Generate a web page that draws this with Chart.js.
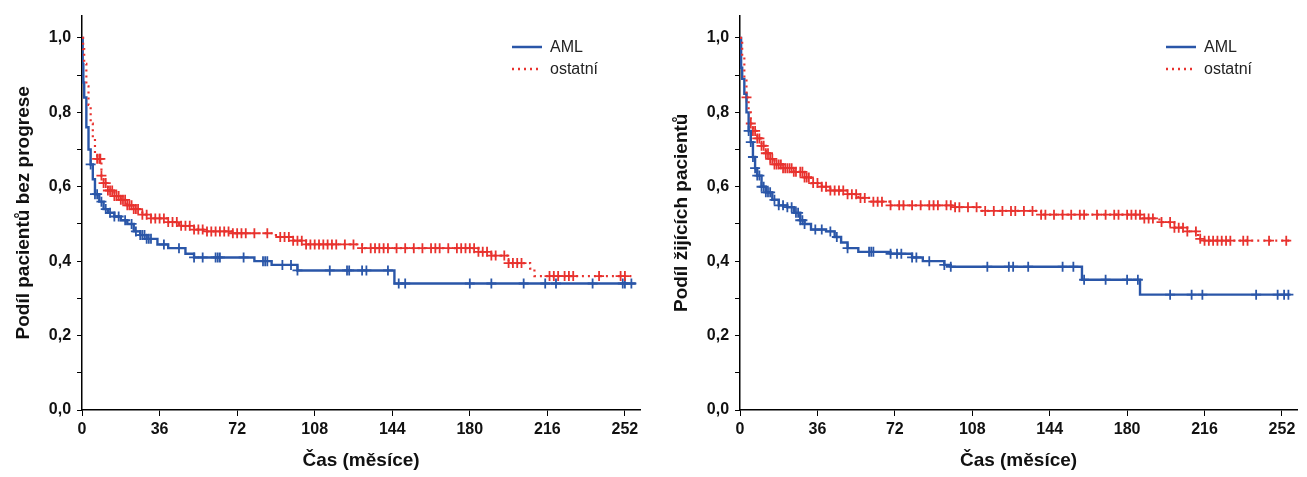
<!DOCTYPE html>
<html><head><meta charset="utf-8">
<script src="https://cdn.jsdelivr.net/npm/chart.js@4"></script>
<style>
body{margin:0;background:#fff;font-family:"Liberation Sans",Arial,sans-serif;}
.wrap{position:absolute;top:0;width:653px;height:477px;}
.leg{position:absolute;font-size:16px;color:#222;}
.leg div{height:22px;display:flex;align-items:center;}
.leg svg{margin-right:8px;}
</style></head><body>
<div class="wrap" style="left:0"><canvas id="c1"></canvas>
<div class="leg" style="left:512px;top:36px"><div><svg width="30" height="4"><line x1="0" y1="2" x2="30" y2="2" stroke="#2a56a8" stroke-width="2.5"/></svg>AML</div><div><svg width="30" height="4"><line x1="0" y1="2" x2="30" y2="2" stroke="#e8322e" stroke-width="2.5" stroke-dasharray="2,4"/></svg>ostatní</div></div></div>
<div class="wrap" style="left:653px"><canvas id="c2"></canvas>
<div class="leg" style="left:513px;top:36px"><div><svg width="30" height="4"><line x1="0" y1="2" x2="30" y2="2" stroke="#2a56a8" stroke-width="2.5"/></svg>AML</div><div><svg width="30" height="4"><line x1="0" y1="2" x2="30" y2="2" stroke="#e8322e" stroke-width="2.5" stroke-dasharray="2,4"/></svg>ostatní</div></div></div>
<script>
const xTicks=[0,36,72,108,144,180,216,252];
const yTicks=[0,0.2,0.4,0.6,0.8,1.0];
// Chart 1: progression-free
const pfsAML=[[0,1],[0.3,0.93],[0.6,0.88],[1,0.84],[2,0.76],[3,0.70],[4,0.66],[5,0.62],[6,0.58],[8,0.56],[10,0.54],[12,0.53],[15,0.52],[18,0.51],[21,0.50],[24,0.48],[27,0.47],[30,0.46],[35,0.445],[40,0.435],[48,0.42],[52,0.41],[80,0.40],[88,0.39],[100,0.375],[145,0.34],[257,0.34]];
const pfsAMLcens=[4,6,7,9,11,13,15,17,20,23,25,27,28,29,30,31,32,38,45,52,56,62,63,64,75,84,85,86,93,97,100,115,123,124,130,132,142,147,150,180,190,205,215,220,237,251,252,255];
const pfsOst=[[0,1],[0.5,0.97],[1,0.93],[2,0.87],[3,0.82],[4,0.77],[5,0.73],[6,0.69],[7,0.675],[9,0.63],[10,0.61],[12,0.59],[15,0.575],[18,0.565],[21,0.55],[24,0.54],[28,0.525],[32,0.515],[40,0.505],[45,0.495],[52,0.485],[58,0.48],[70,0.475],[90,0.465],[98,0.455],[104,0.445],[130,0.435],[184,0.425],[190,0.415],[198,0.395],[208,0.38],[210,0.36],[255,0.36]];
const pfsOstCens=[7,8,8.5,9,10,11,12,13,14,15,16,17,18,19,20,21,22,23,24,25,26,28,30,32,34,36,38,40,42,44,46,48,50,52,54,56,58,60,62,64,66,68,70,72,74,76,80,86,92,94,96,98,100,102,104,106,108,110,112,114,116,118,122,126,130,134,136,138,140,142,146,150,154,158,162,164,166,170,174,176,178,180,182,184,186,188,190,192,196,198,200,202,204,217,219,221,224,226,228,240,250,252];
// Chart 2: overall survival
const osAML=[[0,1],[0.5,0.92],[1,0.89],[2,0.85],[3,0.80],[4,0.75],[5,0.72],[6,0.68],[7,0.65],[8,0.63],[10,0.60],[12,0.585],[15,0.565],[18,0.55],[22,0.545],[25,0.53],[28,0.51],[30,0.50],[33,0.485],[40,0.48],[44,0.465],[47,0.45],[50,0.435],[55,0.425],[70,0.42],[80,0.41],[85,0.40],[95,0.39],[98,0.385],[159,0.35],[186,0.31],[256,0.31]];
const osAMLcens=[4,5,6,7,8,9,10,11,12,13,14,16,18,20,22,24,26,27,28,29,30,35,38,42,45,50,60,61,62,70,73,75,80,82,88,95,98,115,125,127,134,150,155,160,170,180,185,200,210,215,240,250,253,255];
const osOst=[[0,1],[1,0.95],[2,0.89],[3,0.84],[4,0.80],[5,0.77],[6,0.75],[8,0.73],[10,0.71],[12,0.69],[14,0.675],[16,0.66],[20,0.65],[25,0.64],[30,0.625],[33,0.61],[38,0.60],[42,0.59],[50,0.58],[55,0.57],[60,0.56],[70,0.55],[100,0.545],[112,0.535],[140,0.525],[187,0.515],[195,0.505],[202,0.49],[208,0.48],[213,0.46],[216,0.455],[256,0.455]];
const osOstCens=[3,5,6,7,8,9,10,11,12,13,14,15,16,17,18,19,20,21,22,23,24,25,26,28,29,30,31,32,34,36,38,40,42,44,46,48,50,52,54,56,58,62,64,66,70,74,76,80,84,88,90,92,96,98,100,102,106,110,114,118,122,126,128,132,136,140,142,146,150,154,158,160,166,170,174,176,180,182,184,186,188,190,192,196,200,202,204,206,208,212,214,216,218,220,222,224,226,228,234,236,246,254];

function surv(curve,t){let s=curve[0][1];for(const p of curve){if(p[0]<=t)s=p[1];}return s;}
function make(id,yTitle,aml,amlC,ost,ostC,pad,rpad){
  const blue='#2a56a8',red='#e8322e';
  new Chart(document.getElementById(id),{
    type:'scatter',
    data:{datasets:[
      {type:'line',data:ost.map(p=>({x:p[0],y:p[1]})),stepped:true,borderColor:red,borderWidth:2.2,borderDash:[2,4],pointRadius:0,fill:false},
      {type:'line',data:aml.map(p=>({x:p[0],y:p[1]})),stepped:true,borderColor:blue,borderWidth:2.4,pointRadius:0,fill:false},
      {data:ostC.map(t=>({x:t,y:surv(ost,t)})),pointStyle:'cross',pointRadius:5,borderColor:red,borderWidth:1.8,backgroundColor:red},
      {data:amlC.map(t=>({x:t,y:surv(aml,t)})),pointStyle:'cross',pointRadius:5,borderColor:blue,borderWidth:1.8,backgroundColor:blue}
    ]},
    options:{responsive:false,animation:false,
      layout:{padding:{left:pad,right:rpad,top:12,bottom:1}},
      plugins:{legend:{display:false},tooltip:{enabled:false}},
      scales:{
        x:{type:'linear',min:0,max:259,
          afterBuildTicks:a=>{a.ticks=xTicks.map(v=>({value:v}));},
          grid:{drawOnChartArea:false,tickLength:6,color:'#000'},border:{color:'#000',width:1.5},
          ticks:{color:'#111',font:{size:16,weight:'bold',family:'Liberation Sans'},maxRotation:0,padding:4},
          title:{display:true,text:'Čas (měsíce)',color:'#111',font:{size:19,weight:'bold',family:'Liberation Sans'},padding:{top:6}}},
        y:{min:0,max:1.06,
          afterBuildTicks:a=>{a.ticks=[0,0.1,0.2,0.3,0.4,0.5,0.6,0.7,0.8,0.9,1.0].map(v=>({value:v}));},
          grid:{drawOnChartArea:false,tickLength:5,color:'#000'},border:{color:'#000',width:1.5},
          ticks:{color:'#111',font:{size:16,weight:'bold',family:'Liberation Sans'},padding:6,
            callback:v=>{const r=Math.round(v*10);return r%2===0?(r/10).toFixed(1).replace('.',','):'';}},
          title:{display:true,text:yTitle,color:'#111',font:{size:19,weight:'bold',family:'Liberation Sans'},padding:{bottom:8}}}
      }}
  });
}
document.getElementById('c1').width=653;document.getElementById('c1').height=477;
document.getElementById('c2').width=654;document.getElementById('c2').height=477;
make('c1','Podíl pacientů bez progrese',pfsAML,pfsAMLcens,pfsOst,pfsOstCens,8,13);
make('c2','Podíl žijících pacientů',osAML,osAMLcens,osOst,osOstCens,13,10);
</script></body></html>
